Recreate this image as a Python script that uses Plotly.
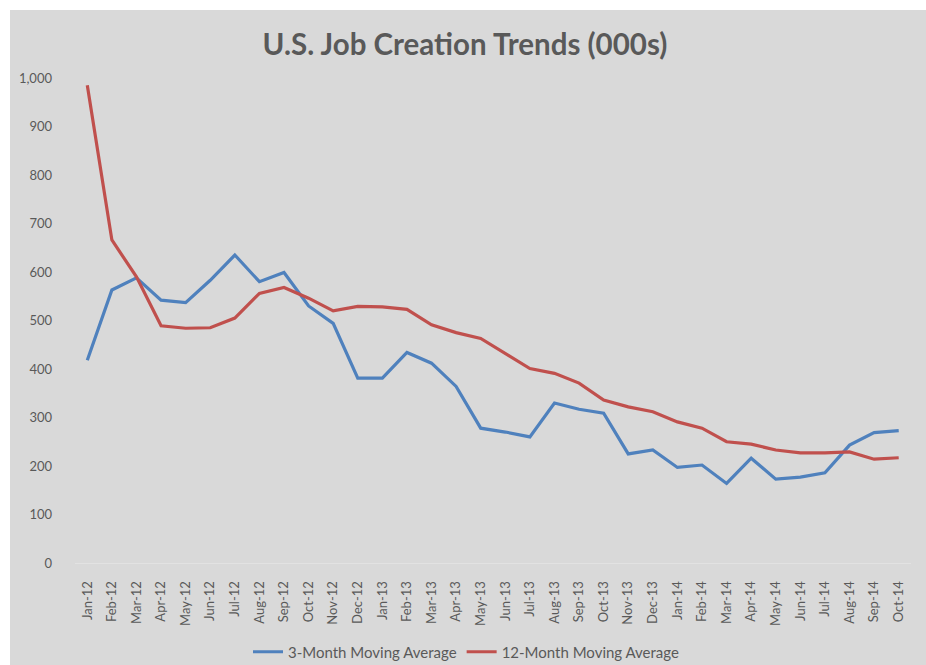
import plotly.graph_objects as go

# Monthly labels, Jan-12 through Oct-14
months = ["Jan-12", "Feb-12", "Mar-12", "Apr-12", "May-12", "Jun-12", "Jul-12", "Aug-12",
          "Sep-12", "Oct-12", "Nov-12", "Dec-12", "Jan-13", "Feb-13", "Mar-13", "Apr-13",
          "May-13", "Jun-13", "Jul-13", "Aug-13", "Sep-13", "Oct-13", "Nov-13", "Dec-13",
          "Jan-14", "Feb-14", "Mar-14", "Apr-14", "May-14", "Jun-14", "Jul-14", "Aug-14",
          "Sep-14", "Oct-14"]

# Job creation moving averages, thousands
ma_3 = [418, 563, 588, 542, 537, 583, 635, 580, 599, 530, 494, 381, 381, 434, 412, 364,
        278, 270, 260, 330, 317, 309, 225, 233, 197, 202, 164, 216, 173, 177, 186, 243,
        269, 273]
ma_12 = [985, 666, 590, 489, 484, 485, 505, 556, 568, 546, 520, 529, 528, 523, 491, 475,
         463, 432, 401, 391, 371, 336, 322, 312, 291, 278, 250, 245, 233, 227, 227, 229,
         214, 217]

y_ticks = list(range(0, 1001, 100))
y_tick_text = [f"{v:,}" for v in y_ticks]

BG = "#d9d9d9"
TXT = "#595959"

fig = go.Figure()
fig.add_trace(go.Scatter(x=months, y=ma_3, mode="lines", name="3-Month Moving Average",
                         line=dict(color="#4f81bd", width=3.2)))
fig.add_trace(go.Scatter(x=months, y=ma_12, mode="lines", name="12-Month Moving Average",
                         line=dict(color="#c0504d", width=3.2)))

W, H = 926, 665
L, R, T, B = 75, 15, 78, 102
pw, ph = W - L - R, H - T - B


def px_x(p):
    return (p - L) / pw


def px_y(p):
    return (H - B - p) / ph


# grey chart panel, inset from the top and left page edges
shapes = [
    dict(type="rect", xref="paper", yref="paper", x0=px_x(10), x1=px_x(W + 5),
         y0=px_y(H + 5), y1=px_y(10), fillcolor=BG, line_width=0, layer="below"),
]

fig.update_layout(
    width=W, height=H,
    margin=dict(l=L, r=R, t=T, b=B, autoexpand=False),
    paper_bgcolor="white", plot_bgcolor="rgba(0,0,0,0)",
    title=dict(text="U.S. Job Creation Trends (000s)", x=465 / W, xanchor="center",
               y=1 - 45 / H, yanchor="middle",
               font=dict(family="Lato", size=29.5, color=TXT, weight="bold")),
    font=dict(family="Lato", color=TXT, size=13),
    showlegend=True,
    legend=dict(orientation="h", x=px_x(466), xanchor="center", y=px_y(652),
                yanchor="middle", bgcolor="rgba(0,0,0,0)", font=dict(size=15, color=TXT)),
    xaxis=dict(type="category", tickangle=-90, showgrid=False, zeroline=False,
               showline=True, linecolor="#e2e2e2", linewidth=1, ticks="",
               tickfont=dict(size=13, color=TXT), range=[-0.5, len(months) - 0.5],
               ticklabelstandoff=12, automargin=False),
    yaxis=dict(range=[0, 1000], tickvals=y_ticks, ticktext=y_tick_text, showgrid=False,
               zeroline=False, showline=False, ticks="", tickfont=dict(size=13, color=TXT),
               ticklabelstandoff=22, automargin=False),
    shapes=shapes,
)

fig.write_html("out.html")
